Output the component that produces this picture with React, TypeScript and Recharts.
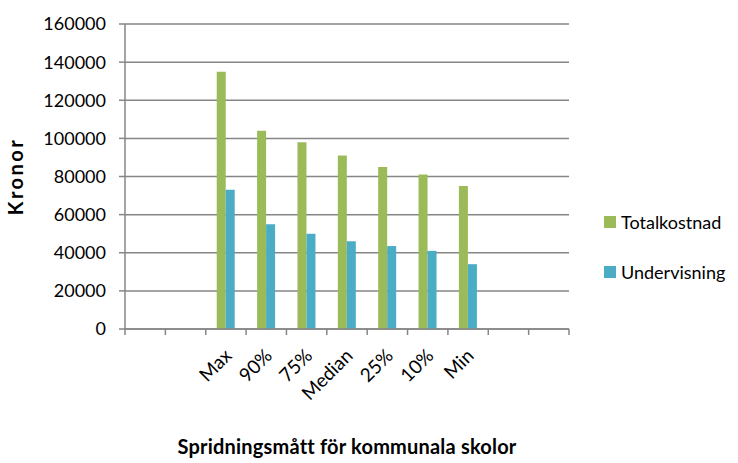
import { BarChart, Bar, XAxis, YAxis, CartesianGrid } from 'recharts'

const categories = ['', '', 'Max', '90%', '75%', 'Median', '25%', '10%', 'Min', '', '']
const totalkostnad = [null, null, 135000, 104000, 98000, 91000, 85000, 81000, 75000, null, null]
const undervisning = [null, null, 73000, 55000, 50000, 46000, 43500, 41000, 34000, null, null]
const yTicks = [0, 20000, 40000, 60000, 80000, 100000, 120000, 140000, 160000]
const seriesNames = ['Totalkostnad', 'Undervisning']

const data = categories.map((c, i) => ({
  key: `c${i}`,
  Totalkostnad: totalkostnad[i],
  Undervisning: undervisning[i],
}))

const FONT = 'Lato, "Open Sans", sans-serif'
const GREEN = '#9BBB59'
const BLUE = '#4BACC6'
const GRID = '#868686'
const colors = [GREEN, BLUE]

const W = 738
const H = 463
const PLOT_LEFT = 125
const PLOT_RIGHT = 569
const BAND = (PLOT_RIGHT - PLOT_LEFT) / categories.length

function CategoryTick(props: any) {
  const { x, y, index } = props
  const left = x - BAND / 2
  const last = index === categories.length - 1
  return (
    <g>
      <line x1={left} y1={y - 8} x2={left} y2={y - 2} stroke={GRID} strokeWidth={1.5} />
      {last && (
        <line x1={left + BAND} y1={y - 8} x2={left + BAND} y2={y - 2} stroke={GRID} strokeWidth={1.5} />
      )}
      <text
        x={x + 7}
        y={y + 20}
        textAnchor="end"
        transform={`rotate(-45, ${x + 7}, ${y + 20})`}
        fontSize={19}
        fontFamily={FONT}
        fill="#000"
      >
        {categories[index]}
      </text>
    </g>
  )
}

function YTitle(props: any) {
  const { viewBox } = props
  const cx = 23
  const cy = viewBox.y + viewBox.height / 2
  return (
    <text
      x={cx}
      y={cy}
      textAnchor="middle"
      transform={`rotate(-90, ${cx}, ${cy})`}
      fontSize={20}
      fontWeight="bold"
      fontFamily={FONT}
      letterSpacing={2.5}
      fill="#000"
    >
      Kronor
    </text>
  )
}

export default function App() {
  return (
    <div style={{ position: 'absolute', left: 0, top: 0, width: W, height: H, background: '#fff' }}>
      <BarChart
        width={W}
        height={H}
        data={data}
        margin={{ top: 24, right: W - PLOT_RIGHT, bottom: 0, left: 0 }}
        barGap={0}
        barSize={9}
      >
        <CartesianGrid vertical={false} stroke={GRID} strokeWidth={1.5} />
        <XAxis
          dataKey="key"
          interval={0}
          height={H - 24 - 305}
          axisLine={{ stroke: GRID, strokeWidth: 1.5 }}
          tickLine={false}
          tick={<CategoryTick />}
          label={{
            value: 'Spridningsmått för kommunala skolor',
            position: 'insideBottom',
            offset: 9,
            fontSize: 20,
            fontWeight: 'bold',
            fontFamily: FONT,
            fill: '#000',
            letterSpacing: 0.2,
          }}
        />
        <YAxis
          width={PLOT_LEFT}
          domain={[0, 160000]}
          ticks={yTicks}
          interval={0}
          axisLine={{ stroke: GRID, strokeWidth: 1.5 }}
          tickLine={{ stroke: GRID, strokeWidth: 1.5 }}
          tick={{ fontSize: 18, fontFamily: FONT, fill: '#000' }}
          tickMargin={13}
          label={{ content: <YTitle /> }}
        />
        <Bar dataKey="Totalkostnad" fill={GREEN} isAnimationActive={false} />
        <Bar dataKey="Undervisning" fill={BLUE} isAnimationActive={false} />
      </BarChart>
      <div
        style={{
          position: 'absolute',
          left: 604,
          top: 197,
          fontFamily: FONT,
          fontSize: 18,
          color: '#000',
        }}
      >
        {seriesNames.map((name, i) => (
          <div key={name} style={{ display: 'flex', alignItems: 'center', height: 50 }}>
            <span style={{ width: 12, height: 12, background: colors[i], marginRight: 5 }} />
            {name}
          </div>
        ))}
      </div>
    </div>
  )
}
